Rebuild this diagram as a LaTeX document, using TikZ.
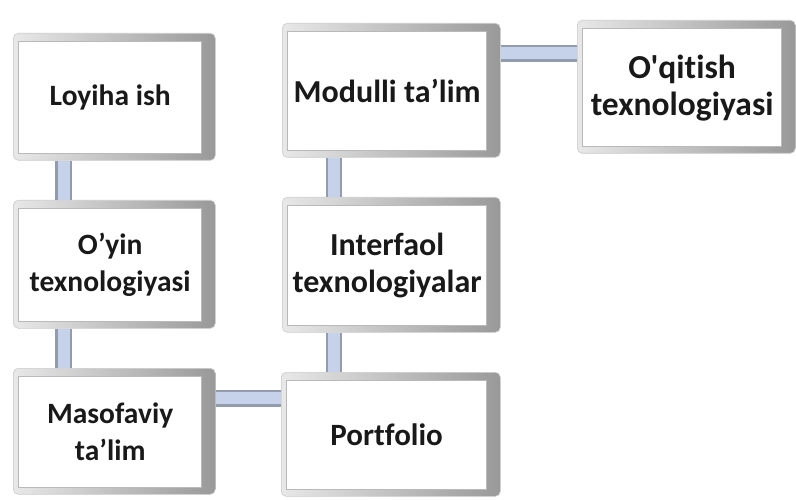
\documentclass[tikz,border=0pt]{standalone}
\usepackage{fontspec}
\setmainfont{Carlito}[Ligatures={TeXOff,CommonOff}]
\usetikzlibrary{calc}
\definecolor{connfill}{HTML}{C5D2EA}
\definecolor{connedge}{HTML}{939CAD}
\tikzset{
  frame/.style={rounded corners=5pt, left color=gray!18, right color=gray!80, draw=gray!40, line width=0.6pt, inner sep=0pt},
  face/.style={fill=white, draw=gray!55, line width=1.3pt, text=black!90, inner sep=0pt, align=center},
  conn/.style={draw=connedge, line width=2.4pt, double=connfill, double distance=12pt, line cap=butt},
}
\newcommand\bevelbox[7]{%
  \node[frame, anchor=north west, minimum width={(#4-#2)*1pt}, minimum height={(#5-#3)*1pt}] (#1f) at (#2,#3) {};
  \node[face, anchor=north west, minimum width={(#4-#2-19)*1pt}, minimum height={(#5-#3-15)*1pt},
        font=\bfseries\fontsize{#6}{37}\selectfont] (#1) at (#2+5,#3+8) {#7};
}
\begin{document}
\begin{tikzpicture}[x=1pt,y=-1pt]
\useasboundingbox[fill=white] (0,0) rectangle (796,500);
\bevelbox{loy}{13}{33}{215}{160}{29.5}{Loyiha ish}
\bevelbox{mod}{282}{23}{500}{157}{32}{Modulli ta’lim}
\bevelbox{oqi}{577}{20}{795}{153}{33.5}{O'qitish\\texnologiyasi}
\bevelbox{oyin}{13}{200}{215}{328}{29.5}{O’yin\\texnologiyasi}
\bevelbox{int}{282}{197}{500}{332}{32}{Interfaol\\texnologiyalar}
\bevelbox{mas}{13}{368}{215}{494}{29.5}{Masofaviy\\ta’lim}
\bevelbox{port}{281}{372}{500}{496}{31}{Portfolio}
% connectors
\draw[conn] ([xshift=50.5pt]loyf.south west) -- ([xshift=50.5pt]loyf.south west |- oyinf.north);
\draw[conn] ([xshift=50.5pt]oyinf.south west) -- ([xshift=50.5pt]oyinf.south west |- masf.north);
\draw[conn] ([xshift=52pt]modf.south west) -- ([xshift=52pt]modf.south west |- intf.north);
\draw[conn] ([xshift=52pt]intf.south west) -- ([xshift=52pt]intf.south west |- portf.north);
\draw[conn] ([yshift=33pt]masf.east) -- ([yshift=33pt]masf.east -| portf.west);
\draw[conn] ([yshift=37pt]modf.east) -- ([yshift=37pt]modf.east -| oqif.west);
\end{tikzpicture}
\end{document}
